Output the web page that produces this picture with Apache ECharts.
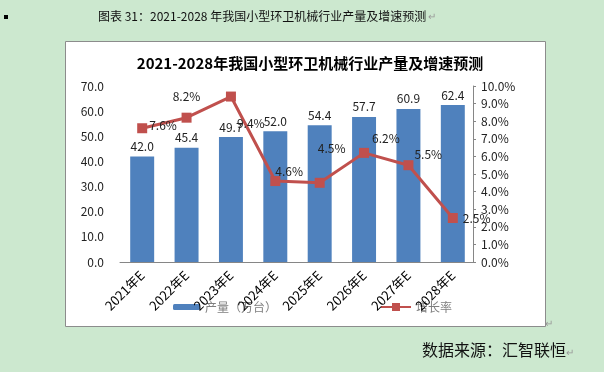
<!DOCTYPE html>
<html>
<head>
<meta charset="utf-8">
<script src="https://cdn.jsdelivr.net/npm/echarts@6/dist/echarts.min.js"></script>
<style>
html,body{margin:0;padding:0;background:#cce8cf;}
#c{width:604px;height:372px;}
</style>
</head>
<body>
<div id="c"></div>
<script>
const categories = ['2021年E','2022年E','2023年E','2024年E','2025年E','2026年E','2027年E','2028年E'];
const outputValues = [42.0, 45.4, 49.7, 52.0, 54.4, 57.7, 60.9, 62.4];
const growthValues = [7.6, 8.2, 9.4, 4.6, 4.5, 6.2, 5.5, 2.5];
const leftTicks = {min: 0, max: 70, interval: 10};
const rightTicks = {min: 0, max: 10, interval: 1};
const seriesNames = ['产量（万台）', '增长率'];

// label placement styles (not data)
const growthLabelStyle = [
  {position:'right', offset:[-3,-3]},
  {position:'top', offset:[0,-5]},
  {position:'right', offset:[-4,27]},
  {position:'right', offset:[-10,-10]},
  {position:'top', offset:[12,-18]},
  {position:'right', offset:[-2,-14]},
  {position:'right', offset:[-4,-11]},
  {position:'right', offset:[0,0]}
];

const FONT = '"Noto Sans CJK SC", "Noto Sans", sans-serif';
const chart = echarts.init(document.getElementById('c'), null, {renderer:'canvas'});

chart.setOption({
  backgroundColor: '#cce8cf',
  animation: false,
  textStyle: {fontFamily: FONT},
  graphic: [
    {type:'rect', shape:{x:4, y:15, width:4, height:4}, style:{fill:'#000'}},
    {type:'text', left: 98, top: 10, style:{text:'图表 31：2021-2028 年我国小型环卫机械行业产量及增速预测', fill:'#111', font:'12px ' + FONT}},
    {type:'text', left: 428, top: 11, style:{text:'↵', fill:'#999', font:'10px ' + FONT}},
    {type:'rect', z:-10, shape:{x:65.5, y:41.5, width:480, height:285}, style:{fill:'#fff', stroke:'#8c8c8c', lineWidth:1}},
    {type:'text', left: 545, top: 318, style:{text:'↵', fill:'#999', font:'10px ' + FONT}},
    {type:'text', left: 422, top: 342, style:{text:'数据来源：汇智联恒', fill:'#111', font:'16px ' + FONT}},
    {type:'text', left: 566, top: 347, style:{text:'↵', fill:'#999', font:'10px ' + FONT}}
  ],
  title: {
    text: '2021-2028年我国小型环卫机械行业产量及增速预测',
    left: 305, textAlign: 'center', top: 51,
    textStyle: {fontSize: 15, fontWeight: 'bold', color: '#000', fontFamily: FONT}
  },
  legend: [
    {
      data: [seriesNames[0]], left: 168, top: 296, z: 1,
      itemWidth: 27, itemHeight: 6,
      textStyle: {color: '#7f7f7f', fontSize: 12, fontFamily: FONT}
    },
    {
      data: [seriesNames[1]], left: 375, top: 296, z: 1,
      itemWidth: 30, itemHeight: 10,
      textStyle: {color: '#7f7f7f', fontSize: 12, fontFamily: FONT}
    }
  ],
  grid: {left: 120, right: 129, top: 86, bottom: 110, containLabel: false},
  xAxis: {
    type: 'category', data: categories, z: 5,
    axisLine: {show: true, lineStyle: {color: '#868686', width: 1}},
    axisTick: {show: false},
    axisLabel: {rotate: 45, color: '#000', fontSize: 13, margin: 11, interval: 0, fontFamily: FONT}
  },
  yAxis: [
    {
      type: 'value', min: leftTicks.min, max: leftTicks.max, interval: leftTicks.interval,
      axisLine: {show: false}, axisTick: {show: false}, splitLine: {show: false},
      axisLabel: {color: '#222', fontSize: 12, margin: 16, formatter: v => v.toFixed(1), fontFamily: FONT}
    },
    {
      type: 'value', min: rightTicks.min, max: rightTicks.max, interval: rightTicks.interval,
      position: 'right', offset: -2,
      axisLine: {show: true, lineStyle: {color: '#868686', width: 1}},
      axisTick: {show: true, length: 3, inside: false, lineStyle: {color: '#868686'}},
      splitLine: {show: false},
      axisLabel: {color: '#222', fontSize: 12, margin: 8, formatter: v => v.toFixed(1) + '%', fontFamily: FONT}
    }
  ],
  series: [
    {
      name: seriesNames[0], type: 'bar', data: outputValues, barWidth: '54%',
      itemStyle: {color: '#4f81bd'},
      label: {show: true, position: 'top', distance: 4, color: '#222', fontSize: 12,
        formatter: p => p.value.toFixed(1), fontFamily: FONT}
    },
    {
      name: seriesNames[1], type: 'line', yAxisIndex: 1,
      data: growthValues.map((v, i) => ({value: v, label: growthLabelStyle[i]})),
      symbol: 'rect', symbolSize: 10,
      lineStyle: {color: '#c0504d', width: 3},
      itemStyle: {color: '#c0504d'},
      label: {show: true, color: '#222', fontSize: 12, distance: 5,
        formatter: p => p.value.toFixed(1) + '%', fontFamily: FONT},
      z: 3
    }
  ]
});
</script>
</body>
</html>
